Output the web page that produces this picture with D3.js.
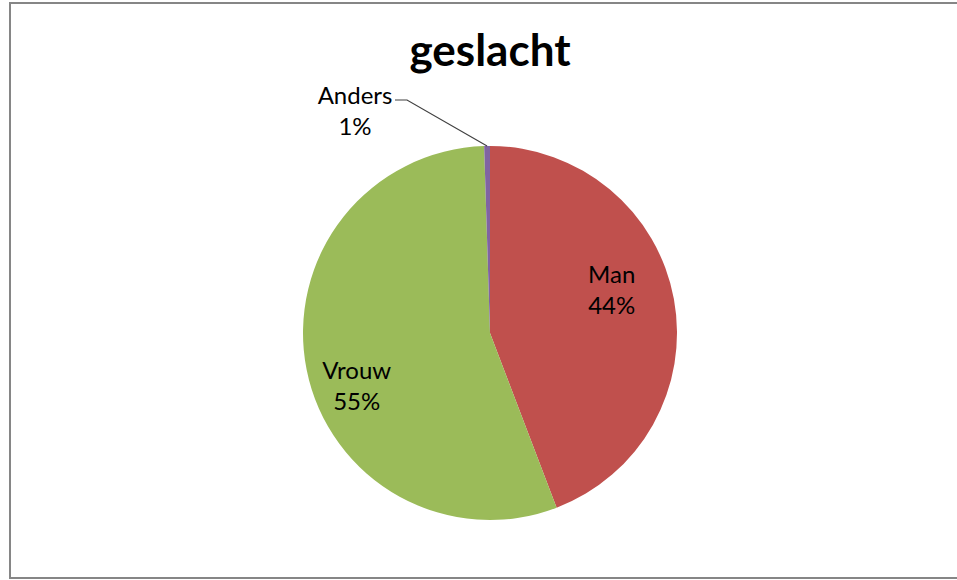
<!DOCTYPE html>
<html>
<head>
<meta charset="utf-8">
<script src="https://cdn.jsdelivr.net/npm/d3@7"></script>
<style>
  body { margin: 0; background: #fff; }
  text { font-family: Lato, "Open Sans", sans-serif; }
</style>
</head>
<body>
<svg id="chart" width="957" height="580"></svg>
<script>
// data
const categories = ["Man", "Vrouw", "Anders"];
const values = [44.2, 55.3, 0.5];   // percent
const colors = ["#C0504D", "#9BBB59", "#8064A2"];
const title = "geslacht";

const width = 957, height = 580;
const cx = 490, cy = 333, radius = 187;

const svg = d3.select("#chart");

// chart border
svg.append("rect")
   .attr("x", 10).attr("y", 3)
   .attr("width", 960).attr("height", 575)
   .attr("fill", "#fff")
   .attr("stroke", "#868686")
   .attr("stroke-width", 2);

svg.append("text")
   .attr("x", cx).attr("y", 66)
   .attr("text-anchor", "middle")
   .attr("font-size", 44)
   .attr("font-weight", "bold")
   .attr("fill", "#000")
   .text(title);

const data = categories.map((c, i) => ({ name: c, value: values[i], color: colors[i] }));

const pie = d3.pie().sort(null).value(d => d.value);
const arcs = pie(data);

const arc = d3.arc().innerRadius(0).outerRadius(radius);
const labelArc = d3.arc().innerRadius(radius * 0.7).outerRadius(radius * 0.7);

const g = svg.append("g").attr("transform", `translate(${cx},${cy})`);

g.selectAll("path.slice")
 .data(arcs)
 .enter().append("path")
 .attr("class", "slice")
 .attr("d", arc)
 .attr("fill", d => d.data.color);

// label nudges (Excel best-fit places labels off the centroid)
const nudge = { "Man": [-7, -20], "Vrouw": [-5, 26] };

arcs.forEach(d => {
  const name = d.data.name;
  const pct = Math.round(d.data.value) + "%";
  let x, y;
  if (nudge[name]) {
    const c = labelArc.centroid(d);
    x = c[0] + nudge[name][0];
    y = c[1] + nudge[name][1];
  } else {
    // small slice: label outside with leader line
    const edge = d3.arc().innerRadius(radius).outerRadius(radius).centroid(d);
    x = -135; y = -223;
    g.append("polyline")
     .attr("points", [[x + 40, y - 10], [x + 52, y - 10], edge].map(p => p.join(",")).join(" "))
     .attr("fill", "none")
     .attr("stroke", "#404040")
     .attr("stroke-width", 1.2);
  }
  const t = g.append("text")
   .attr("text-anchor", "middle")
   .attr("font-size", 24)
   .attr("fill", "#000");
  t.append("tspan").attr("x", x).attr("y", y - 6).text(name);
  t.append("tspan").attr("x", x).attr("y", y + 25).text(pct);
});
</script>
</body>
</html>
